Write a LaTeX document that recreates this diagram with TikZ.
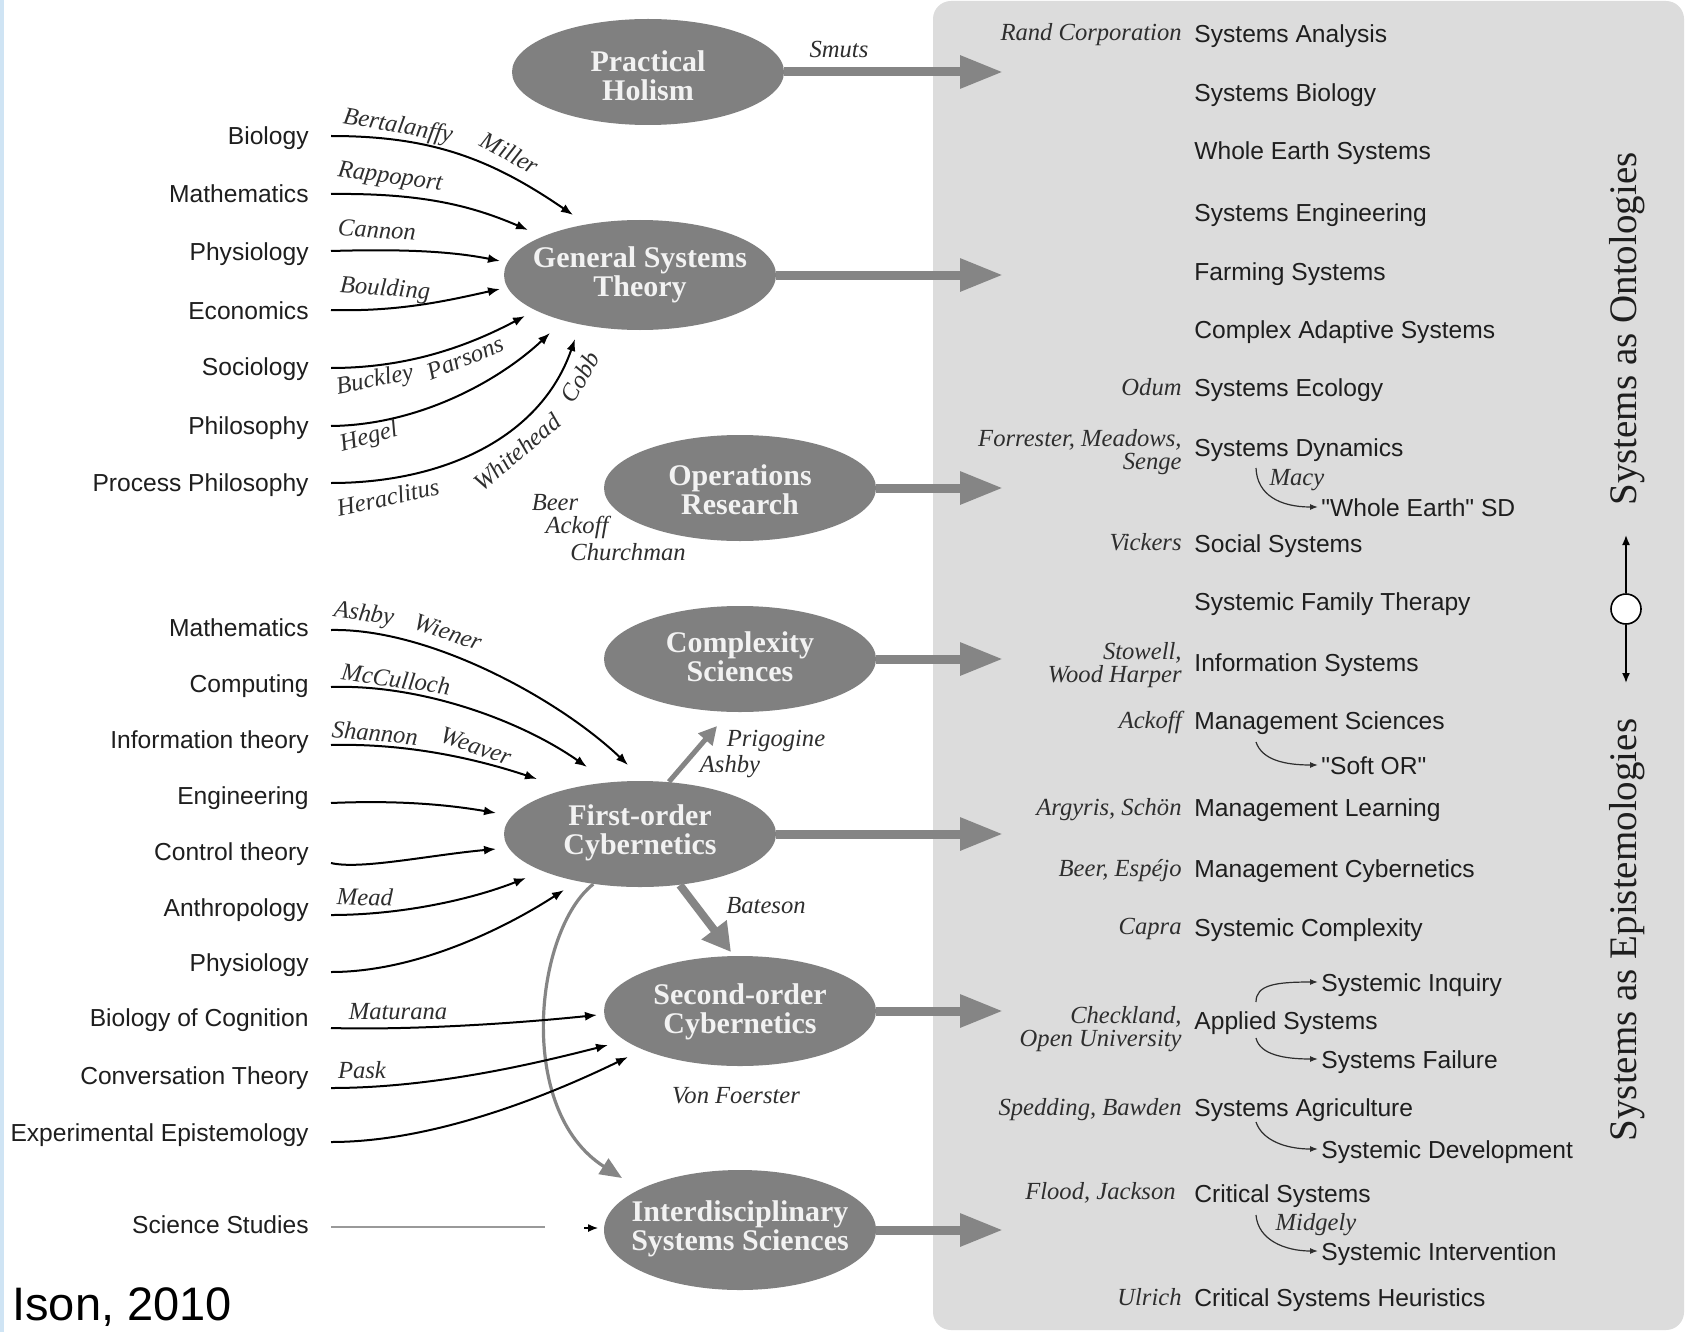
\documentclass[tikz,border=0pt]{standalone}
\usepackage{fontspec}
\setmainfont{Liberation Serif}
\newfontfamily\lsans{Liberation Sans}
\newfontfamily\lserif{Liberation Serif}
\usetikzlibrary{shapes.geometric,arrows.meta,calc}
\definecolor{ellgray}{HTML}{808080}
\definecolor{arrgray}{HTML}{858585}
\definecolor{panelgray}{HTML}{DCDCDC}
\definecolor{stripblue}{HTML}{CFE4F4}
\definecolor{labtxt}{HTML}{1E1E1E}
\definecolor{authtxt}{HTML}{2E2E2E}
\definecolor{elltxt}{HTML}{F2F2F2}
\tikzset{
 ell/.style={ellipse, fill=ellgray, inner sep=0pt, minimum width=136pt},
 elltext/.style={text=elltxt, font=\lserif\bfseries\fontsize{15}{14.5}\selectfont, align=center, inner sep=0pt},
 lab/.style={text=labtxt, font=\lsans\fontsize{12.3}{14}\selectfont, text height=10pt, text depth=1pt, inner ysep=1pt},
 leftlab/.style={lab, anchor=east, inner xsep=11pt},
 rightlab/.style={lab, anchor=west, inner xsep=0pt},
 sublab/.style={lab, anchor=west, inner xsep=1.5pt},
 auth/.style={text=authtxt, font=\lserif\itshape\fontsize{12.3}{11.5}\selectfont, inner sep=0pt},
 rauth/.style={auth, anchor=base east, align=right},
 inarr/.style={line width=1pt, black, -{Latex[length=6pt,width=4.5pt]}},
 bigarr/.style={arrgray, line width=4.5pt, -{Triangle[length=21.5pt,width=15.5pt]}},
 subarr/.style={line width=0.6pt, authtxt, -{Latex[length=4pt,width=3pt]}},
 sidetitle/.style={rotate=90, text=labtxt, font=\lserif\fontsize{19.5}{20}\selectfont, inner sep=0pt},
}
\begin{document}
\begin{tikzpicture}[x=0.5pt,y=-0.5pt]
\useasboundingbox (0,0) rectangle (1690,1332);
\fill[white] (0,0) rectangle (1690,1332);
\fill[stripblue] (0,0) rectangle (4,1332);
\fill[panelgray, rounded corners=9pt] (933,1) rectangle (1684,1330);

% ---------- ellipses ----------
\node[ell, minimum height=53pt] (ph)  at (648,72) {};
\node[ell, minimum height=55pt] (gst) at (640,275) {};
\node[ell, minimum height=53pt] (or)  at (740,488) {};
\node[ell, minimum height=53pt] (cs)  at (740,659) {};
\node[ell, minimum height=53pt] (foc) at (640,834) {};
\node[ell, minimum height=55pt] (soc) at (740,1011) {};
\node[ell, minimum height=60pt] (iss) at (740,1230) {};
\node[elltext] (phT)  at (648,76)  {Practical\\Holism};
\node[elltext] (gstT) at (640,275) {General Systems\\Theory};
\node[elltext] (orT)  at (740,490) {Operations\\Research};
\node[elltext] (csT)  at (740,657) {Complexity\\Sciences};
\node[elltext] (focT) at (640,833) {First-order\\Cybernetics};
\node[elltext] (socT) at (740,1012) {Second-order\\Cybernetics};
\node[elltext] (issT) at (740,1229) {Interdisciplinary\\Systems Sciences};

% ---------- big arrows to panel ----------
\coordinate (tph)  at (1003,72);
\coordinate (tgst) at (1003,275);
\coordinate (tor)  at (1003,488);
\coordinate (tcs2) at (1003,659);
\coordinate (tfoc) at (1003,834);
\coordinate (tsoc2) at (1003,1011);
\coordinate (tiss2) at (1003,1230);
\draw[bigarr] (ph.east) -- (tph);
\draw[bigarr] (gst.east) -- (tgst);
\draw[bigarr] (or.east) -- (tor);
\draw[bigarr] (cs.east) -- (tcs2);
\draw[bigarr] (foc.east) -- (tfoc);
\draw[bigarr] (soc.east) -- (tsoc2);
\draw[bigarr] (iss.east) -- (tiss2);
\node[auth] (smuts) at (839,50) {Smuts};

% ---------- FOC outgoing ----------
\coordinate (tcs) at (717,726);
\coordinate (tsoc) at (731,952);
\coordinate (tiss) at (622,1178);
\draw[arrgray, line width=2.5pt, -{Triangle[length=9pt,width=9pt]}] (foc.61) -- (tcs);
\draw[arrgray, line width=4pt, -{Triangle[length=14pt,width=15pt]}] (foc.-52) -- (tsoc);
\draw[arrgray, line width=1.6pt, -{Triangle[length=11pt,width=9pt]}] (foc.227) .. controls (535,930) and (515,1110) .. (tiss);
\node[auth] (prig) at (776,741) {Prigogine};
\node[auth] (ashby2) at (730,767) {Ashby};
\node[auth] (bates) at (766,906) {Bateson};
\node[auth] (vonf) at (736,1096) {Von Foerster};
\node[auth] (beer) at (555,503) {Beer};
\node[auth] (ackoff) at (577,527) {Ackoff};
\node[auth] (church) at (628,552) {Churchman};

% ---------- group 1: inputs to GST ----------
\node[leftlab] (bio)   at (331,136) {Biology};
\node[leftlab] (math1) at (331,194) {Mathematics};
\node[leftlab] (phys1) at (331,251) {Physiology};
\node[leftlab] (econ)  at (331,310) {Economics};
\node[leftlab] (soc1)  at (331,366) {Sociology};
\node[leftlab] (phil)  at (331,425) {Philosophy};
\node[leftlab] (proc)  at (331,482) {Process Philosophy};
\coordinate (g1) at (573,215);
\coordinate (g2) at (528,230);
\coordinate (g3) at (500,261);
\coordinate (g4) at (500,289);
\coordinate (g5) at (525,316);
\coordinate (g6) at (550,333);
\coordinate (g7) at (575,339);
\draw[inarr] (bio.east) .. controls (430,136) and (490,158) .. (g1);
\draw[inarr] (math1.east) .. controls (420,193) and (470,205) .. (g2);
\draw[inarr] (phys1.east) .. controls (400,249) and (450,251) .. (g3);
\draw[inarr] (econ.east) .. controls (400,312) and (450,300) .. (g4);
\draw[inarr] ($(soc1.east)+(0,2)$) .. controls (410,368) and (470,345) .. (g5);
\draw[inarr] ($(phil.east)+(0,1)$) .. controls (420,425) and (500,380) .. (g6);
\draw[inarr] ($(proc.east)+(0,1)$) .. controls (440,483) and (540,440) .. (g7);
\node[auth, rotate=-10] (aBert) at (398,127) {Bertalanffy};
\node[auth, rotate=-28] (aMill) at (510,153) {Miller};
\node[auth, rotate=-8]  (aRapp) at (390,178) {Rappoport};
\node[auth, rotate=-3]  (aCann) at (377,230) {Cannon};
\node[auth, rotate=-4]  (aBoul) at (385,290) {Boulding};
\node[auth, rotate=11]  (aBuck) at (375,381) {Buckley};
\node[auth, rotate=22]  (aPars) at (465,358) {Parsons};
\node[auth, rotate=15]  (aHege) at (369,438) {Hegel};
\node[auth, rotate=12]  (aHera) at (388,497) {Heraclitus};
\node[auth, rotate=40]  (aWhit) at (517,452) {Whitehead};
\node[auth, rotate=60]  (aCobb) at (580,377) {Cobb};

% ---------- group 2: inputs to FOC ----------
\node[leftlab] (math2) at (331,627) {Mathematics};
\node[leftlab] (comp)  at (331,683) {Computing};
\node[leftlab] (info)  at (331,739) {Information theory};
\node[leftlab] (eng)   at (331,795) {Engineering};
\node[leftlab] (ctrl)  at (331,851) {Control theory};
\node[leftlab] (anth)  at (331,907) {Anthropology};
\node[leftlab] (phys2) at (331,962) {Physiology};
\coordinate (f1) at (628,765);
\coordinate (f2) at (587,767);
\coordinate (f3) at (537,779);
\coordinate (f4) at (496,813);
\coordinate (f5) at (496,849);
\coordinate (f6) at (526,878);
\coordinate (f7) at (564,890);
\draw[inarr] ($(math2.east)+(0,3)$) .. controls (430,628) and (560,700) .. (f1);
\draw[inarr] ($(comp.east)+(0,4)$) .. controls (420,684) and (520,720) .. (f2);
\draw[inarr] ($(info.east)+(0,6)$) .. controls (410,743) and (480,760) .. (f3);
\draw[inarr] ($(eng.east)+(0,8)$) .. controls (400,800) and (450,805) .. (f4);
\draw[inarr] ($(ctrl.east)+(0,12)$) .. controls (360,870) and (430,855) .. (f5);
\draw[inarr] ($(anth.east)+(0,8)$) .. controls (400,915) and (470,900) .. (f6);
\draw[inarr] ($(phys2.east)+(0,10)$) .. controls (420,972) and (510,925) .. (f7);
\node[auth, rotate=-8]  (aAsh) at (364,615) {Ashby};
\node[auth, rotate=-19] (aWie) at (448,632) {Wiener};
\node[auth, rotate=-8]  (aMcC) at (396,679) {McCulloch};
\node[auth, rotate=-5]  (aSha) at (375,733) {Shannon};
\node[auth, rotate=-19] (aWea) at (476,746) {Weaver};
\node[auth, rotate=-2]  (aMea) at (365,897) {Mead};

% ---------- group 3: inputs to SOC / ISS ----------
\node[leftlab] (bcog) at (331,1017) {Biology of Cognition};
\node[leftlab] (conv) at (331,1075) {Conversation Theory};
\node[leftlab] (expe) at (331,1132) {Experimental Epistemology};
\node[leftlab] (sci)  at (331,1224) {Science Studies};
\coordinate (s1) at (597,1015);
\coordinate (s2) at (608,1045);
\coordinate (s3) at (628,1057);
\draw[inarr] ($(bcog.east)+(0,11)$) .. controls (400,1030) and (500,1025) .. (s1);
\draw[inarr] ($(conv.east)+(0,13)$) .. controls (430,1088) and (530,1065) .. (s2);
\draw[inarr] ($(expe.east)+(0,10)$) .. controls (440,1142) and (560,1090) .. (s3);
\node[auth] (aMat) at (398,1012) {Maturana};
\node[auth] (aPas) at (362,1070) {Pask};
\coordinate (scend) at (545,1227);
\coordinate (scarr) at (584,1228);
\coordinate (tsci) at (598,1228);
\draw[line width=0.7pt, black!40] ($(sci.east)+(0,3)$) -- (scend);
\draw[line width=0.6pt, -{Latex[length=5pt,width=4pt]}] (scarr) -- (tsci);

\node[anchor=base west, inner sep=0pt, font=\lsans\fontsize{23.5}{26}\selectfont] (ison) at (12,1320) {Ison, 2010};

% ---------- right panel ----------
\node[rightlab] (r1)  at (1194,34)   {Systems Analysis};
\node[rightlab] (r2)  at (1194,93)   {Systems Biology};
\node[rightlab] (r3)  at (1194,151)  {Whole Earth Systems};
\node[rightlab] (r4)  at (1194,212)  {Systems Engineering};
\node[rightlab] (r5)  at (1194,271)  {Farming Systems};
\node[rightlab] (r6)  at (1194,329)  {Complex Adaptive Systems};
\node[rightlab] (r7)  at (1194,387)  {Systems Ecology};
\node[rightlab] (r8)  at (1194,447)  {Systems Dynamics};
\node[rightlab] (r9)  at (1194,543)  {Social Systems};
\node[rightlab] (r10) at (1194,601)  {Systemic Family Therapy};
\node[rightlab] (r11) at (1194,662)  {Information Systems};
\node[rightlab] (r12) at (1194,720)  {Management Sciences};
\node[rightlab] (r13) at (1194,807)  {Management Learning};
\node[rightlab] (r14) at (1194,868)  {Management Cybernetics};
\node[rightlab] (r15) at (1194,927)  {Systemic Complexity};
\node[rightlab] (r16) at (1194,1020) {Applied Systems};
\node[rightlab] (r17) at (1194,1107) {Systems Agriculture};
\node[rightlab] (r18) at (1194,1193) {Critical Systems};
\node[rightlab] (r19) at (1194,1297) {Critical Systems Heuristics};

\node[rauth] (p1)  at (1182,41)   {Rand Corporation};
\node[rauth] (p7)  at (1182,395)  {Odum};
\node[rauth] (p8)  at (1182,469)  {Forrester, Meadows,\\Senge};
\node[rauth] (p9)  at (1182,550)  {Vickers};
\node[rauth] (p11) at (1182,682)  {Stowell,\\Wood Harper};
\node[rauth] (p12) at (1182,728)  {Ackoff};
\node[rauth] (p13) at (1182,815)  {Argyris, Schön};
\node[rauth] (p14) at (1182,876)  {Beer, Espéjo};
\node[rauth] (p15) at (1182,934)  {Capra};
\node[rauth] (p16) at (1182,1046) {Checkland,\\Open University};
\node[rauth] (p17) at (1182,1115) {Spedding, Bawden};
\node[rauth] (p18) at (1176,1199) {Flood, Jackson};
\node[rauth] (p19) at (1182,1305) {Ulrich};

\node[sublab] (q8)  at (1318,507)  {"Whole Earth" SD};
\node[sublab] (q12) at (1318,765)  {"Soft OR"};
\node[sublab] (q16a) at (1318,982) {Systemic Inquiry};
\node[sublab] (q16b) at (1318,1059) {Systems Failure};
\node[sublab] (q17) at (1318,1149) {Systemic Development};
\node[sublab] (q18) at (1318,1251) {Systemic Intervention};
\node[auth] (macy) at (1297,480) {Macy};
\node[auth] (midg) at (1316,1225) {Midgely};

\coordinate (c8) at (1256,468);
\coordinate (c12) at (1256,742);
\coordinate (c16a) at (1256,1002);
\coordinate (c16b) at (1256,1038);
\coordinate (c17) at (1256,1122);
\coordinate (c18) at (1256,1215);
\draw[subarr] (c8) .. controls (1257,495) and (1280,507) .. (q8.west);
\draw[subarr] (c12) .. controls (1262,760) and (1285,765) .. (q12.west);
\draw[subarr] (c16a) .. controls (1256,985) and (1275,982) .. (q16a.west);
\draw[subarr] (c16b) .. controls (1260,1055) and (1285,1059) .. (q16b.west);
\draw[subarr] (c17) .. controls (1262,1140) and (1285,1149) .. (q17.west);
\draw[subarr] (c18) .. controls (1258,1240) and (1285,1251) .. (q18.west);

% ---------- side titles ----------
\node[sidetitle] (ont) at (1627,329) {Systems as Ontologies};
\node[sidetitle] (epi) at (1627,930) {Systems as Epistemologies};
\node[circle, draw=black, line width=0.8pt, fill=white, minimum size=15pt, inner sep=0pt] (dc) at (1626,609) {};
\coordinate (dtop) at (1626,535);
\coordinate (dbot) at (1626,683);
\draw[line width=0.8pt, -{Latex[length=5pt,width=4pt]}] (dc.north) -- (dtop);
\draw[line width=0.8pt, -{Latex[length=5pt,width=4pt]}] (dc.south) -- (dbot);
\end{tikzpicture}
\end{document}
